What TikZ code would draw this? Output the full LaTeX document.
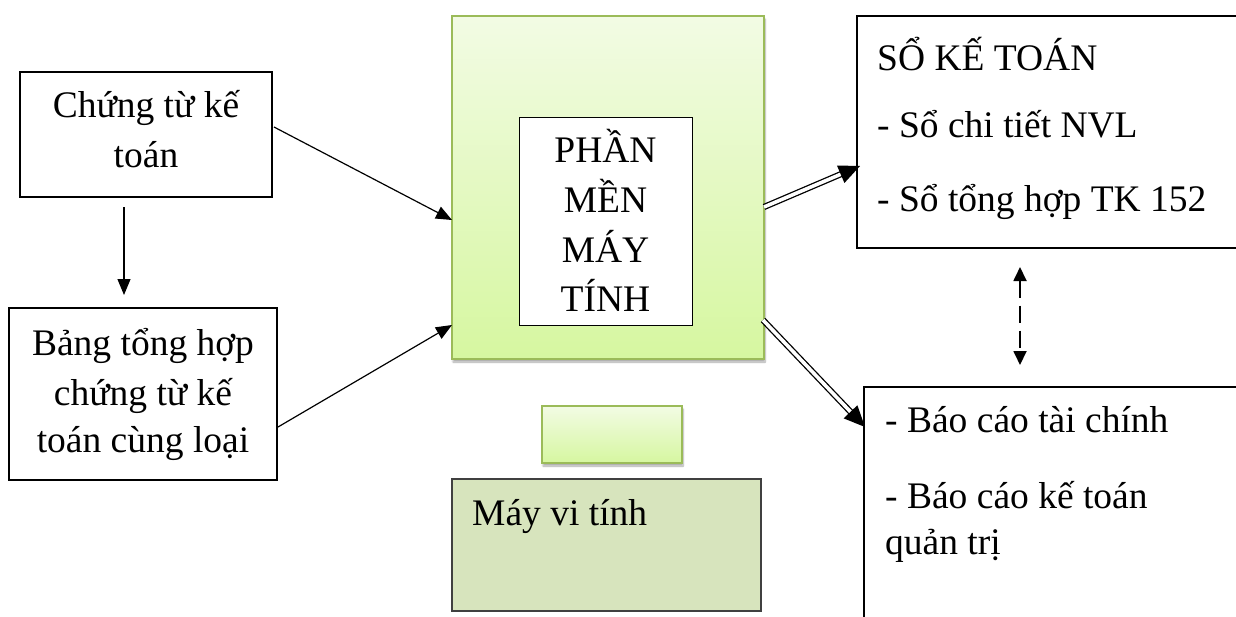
\documentclass[tikz,border=0pt]{standalone}
\usepackage{fontspec}
\setmainfont{Liberation Serif}
\usetikzlibrary{arrows.meta,calc,shadows.blur}

\definecolor{greenedge}{HTML}{9BBB59}
\definecolor{greentop}{HTML}{F2FBE4}
\definecolor{greenbot}{HTML}{D6F7A0}
\definecolor{olivefill}{HTML}{D7E4BD}
\definecolor{darkedge}{HTML}{404040}

% filled head for the double arrows: #1 = tail, #2 = tip
\newcommand{\bigheadto}[2]{%
  \fill ($(#2)!21pt!(#1)$) coordinate (hb)
        ($(hb)!9.5pt!90:(#2)$) -- (#2) -- ($(hb)!9.5pt!-90:(#2)$) -- cycle;}

\begin{document}
\begin{tikzpicture}[x=1pt,y=-1pt,
  box/.style={draw=black,line width=1.2pt,fill=white,inner sep=0pt,rectangle},
  greenbox/.style={draw=greenedge,line width=2pt,inner sep=0pt,rectangle,
    top color=greentop,bottom color=greenbot,
    blur shadow={shadow xshift=1pt,shadow yshift=-3pt,shadow blur steps=8,shadow opacity=35}},
  lbl/.style={inner sep=0pt,font=\fontsize{37.5}{49.5}\selectfont,anchor=base},
  lblw/.style={lbl,anchor=base west},
  arr/.style={line width=1.2pt,-{Triangle[length=16pt,width=13pt]}},
  dblline/.style={double,double distance=3.6pt,line width=1.3pt},
  dasharr/.style={line width=1.8pt,dash pattern=on 17pt off 8pt,
    {Triangle[length=14pt,width=13pt]}-{Triangle[length=14pt,width=13pt]}}
]
\useasboundingbox (0,0) rectangle (1236,616);
\clip (0,0) rectangle (1236,616);

% input documents
\node[box,minimum width=252pt,minimum height=125pt] (ct) at (146,134.5) {};
\node[lbl] (ct1) at (146,117) {Chứng từ kế};
\node[lbl] (ct2) at (146,167) {toán};

\node[box,minimum width=268pt,minimum height=172pt] (bth) at (143,394) {};
\node[lbl] (bth1) at (143,355) {Bảng tổng hợp};
\node[lbl] (bth2) at (143,405) {chứng từ kế};
\node[lbl] (bth3) at (143,452) {toán cùng loại};

% software block
\node[greenbox,minimum width=312pt,minimum height=343pt] (pm) at (608,187.5) {};
\node[box,line width=1pt,minimum width=173pt,minimum height=208pt] (pmin) at (605.5,221) {};
\node[lbl] (pm1) at (605.5,162) {PHẦN};
\node[lbl] (pm2) at (605.5,212) {MỀN};
\node[lbl] (pm3) at (605.5,262) {MÁY};
\node[lbl] (pm4) at (605.5,311) {TÍNH};

\node[greenbox,minimum width=140pt,minimum height=57pt] (small) at (612,434.5) {};

\node[draw=darkedge,fill=olivefill,line width=1.5pt,inner sep=0pt,minimum width=309pt,minimum height=132pt] (mvt) at (606.5,545) {};
\node[lblw] (mvt1) at (472,525) {Máy vi tính};

% outputs
\node[box,minimum width=393pt,minimum height=232pt] (skt) at (1053.5,132) {};
\node[lblw] (skt1) at (877,70) {SỔ KẾ TOÁN};
\node[lblw] (skt2) at (877,137) {- Sổ chi tiết NVL};
\node[lblw] (skt3) at (877,211) {- Sổ tổng hợp TK 152};

\node[box,minimum width=386pt,minimum height=243pt] (bc) at (1057,508.5) {};
\node[lblw] (bc1) at (885,432) {- Báo cáo tài chính};
\node[lblw] (bc2) at (885,508) {- Báo cáo kế toán};
\node[lblw] (bc3) at (885,554) {quản trị};

% connector end points
\coordinate (d1) at (124,207);
\coordinate (d2) at (124,295);
\coordinate (a1) at (274,127);
\coordinate (a2) at (452,220);
\coordinate (b1) at (278,427);
\coordinate (b2) at (452,325);
\coordinate (o1) at (764,207);
\coordinate (o2) at (860,166);
\coordinate (p1) at (763,320);
\coordinate (p2) at (865,427);
\coordinate (s1) at (1020,267);
\coordinate (s2) at (1020,365);

% connectors
\draw[arr] (d1) -- (d2);
\draw[arr] (a1) -- (a2);
\draw[arr] (b1) -- (b2);

\draw[dblline,shorten >=19pt] (o1) -- (o2);
\bigheadto{o1}{o2}
\draw[dblline,shorten >=19pt] (p1) -- (p2);
\bigheadto{p1}{p2}

\draw[dasharr] (s1) -- (s2);
\end{tikzpicture}
\end{document}
